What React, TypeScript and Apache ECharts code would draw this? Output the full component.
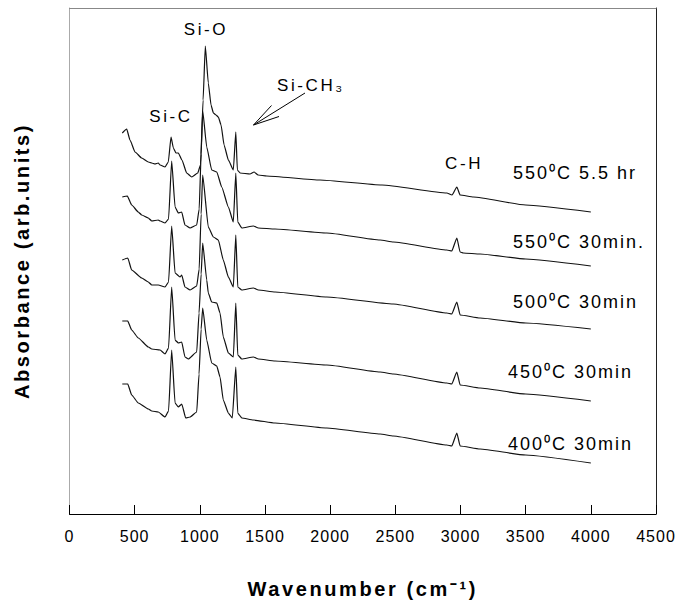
import React, { useEffect, useRef } from "react";
import * as echarts from "echarts";

// Wavenumber (cm^-1) / absorbance (arb. units, spectra stacked with offsets)
const spec550_5h: number[][] = [
  [405, 38.1], [439, 38.5], [464, 37.4], [503, 36.2], [554, 35.6], [605, 35.2], [631, 35.1], [656, 35.0],
  [681, 35.1], [695, 34.9], [733, 34.7], [758, 35.2], [779, 37.7], [797, 36.6], [817, 36.1], [835, 36.1],
  [863, 35.4], [899, 34.1], [938, 33.7], [984, 34.1], [1005, 34.9], [1025, 41.4], [1042, 46.8], [1065, 43.1],
  [1086, 40.9], [1104, 40.1], [1124, 39.9], [1142, 39.7], [1163, 38.9], [1186, 36.9], [1219, 35.4], [1257, 34.4],
  [1276, 38.2], [1288, 34.4], [1309, 34.1], [1385, 34.0], [1416, 34.2], [1447, 33.9], [1513, 33.8], [1922, 33.4],
  [2398, 32.9], [2895, 32.1], [2935, 31.9], [2972, 32.7], [2997, 31.9], [3100, 31.7], [3500, 30.9], [4000, 30.2],
];
const spec550_30: number[][] = [
  [405, 31.7], [444, 31.8], [477, 30.9], [528, 30.2], [554, 29.9], [605, 29.6], [631, 29.3], [681, 29.4],
  [695, 29.3], [733, 29.1], [760, 29.5], [784, 35.3], [810, 30.7], [835, 30.1], [861, 30.2], [886, 28.9],
  [925, 28.6], [976, 28.9], [995, 30.5], [1010, 36.0], [1022, 40.3], [1053, 36.7], [1091, 34.4], [1130, 34.2],
  [1168, 32.7], [1219, 30.7], [1257, 29.2], [1276, 34.1], [1291, 29.2], [1322, 28.6], [1411, 28.8], [1449, 28.6],
  [1577, 28.5], [1974, 28.1], [2383, 27.4], [2485, 27.2], [2895, 26.4], [2933, 26.3], [2972, 27.6], [2997, 26.2],
  [3022, 26.1], [3150, 26.0], [3500, 25.5], [4000, 24.8],
];
const spec500_30: number[][] = [
  [405, 25.4], [447, 25.6], [477, 24.4], [554, 23.6], [605, 23.2], [631, 22.9], [681, 22.9], [733, 22.7],
  [760, 23.2], [784, 28.8], [810, 24.1], [848, 23.7], [861, 23.9], [886, 22.7], [925, 22.4], [976, 22.8],
  [995, 24.5], [1010, 30.0], [1022, 33.9], [1065, 28.7], [1104, 27.7], [1142, 27.4], [1180, 25.4], [1219, 23.7],
  [1257, 22.7], [1276, 27.9], [1291, 22.7], [1322, 22.4], [1411, 22.6], [1449, 22.4], [1577, 22.2], [1974, 21.7],
  [2485, 21.0], [2895, 20.1], [2933, 20.0], [2972, 21.2], [2997, 19.9], [3150, 19.6], [3500, 19.1], [4000, 18.5],
];
const spec450_30: number[][] = [
  [405, 19.3], [447, 19.3], [477, 18.4], [528, 17.6], [605, 16.7], [631, 16.5], [695, 16.4], [733, 16.0],
  [760, 16.6], [784, 22.7], [810, 17.4], [835, 17.1], [861, 17.2], [886, 15.7], [912, 15.5], [976, 16.2],
  [994, 20.1], [1010, 24.0], [1022, 27.1], [1053, 23.4], [1065, 22.1], [1091, 21.2], [1130, 21.1], [1155, 20.1],
  [1180, 17.7], [1219, 16.1], [1257, 15.7], [1276, 21.1], [1291, 15.9], [1322, 15.5], [1411, 15.7], [1449, 15.5],
  [1577, 15.3], [1974, 14.9], [2383, 14.2], [2485, 14.0], [2895, 13.1], [2933, 13.0], [2972, 14.2], [2997, 12.9],
  [3150, 12.6], [3500, 12.0], [4000, 11.3],
];
const spec400_30: number[][] = [
  [405, 13.0], [447, 13.0], [477, 11.9], [528, 11.1], [605, 10.5], [631, 10.3], [681, 10.2], [733, 9.7],
  [760, 10.3], [784, 16.4], [810, 11.1], [835, 10.7], [861, 11.0], [892, 9.6], [925, 9.7], [976, 10.2],
  [994, 14.0], [1010, 18.5], [1022, 20.6], [1053, 17.4], [1091, 15.1], [1130, 14.8], [1155, 13.7], [1180, 11.4],
  [1219, 10.1], [1249, 9.6], [1276, 14.7], [1291, 10.1], [1322, 9.6], [1411, 9.4], [1577, 9.1], [1974, 8.6],
  [2383, 8.0], [2485, 7.8], [2895, 6.9], [2933, 6.8], [2972, 8.1], [2997, 6.8], [3150, 6.5], [3500, 5.9], [4000, 5.1],
];

const seriesNames = ["550⁰C 5.5 hr", "550⁰C 30min.", "500⁰C 30min", "450⁰C 30min", "400⁰C 30min"];
const seriesData = [spec550_5h, spec550_30, spec500_30, spec450_30, spec400_30];
const xTicks = [0, 500, 1000, 1500, 2000, 2500, 3000, 3500, 4000, 4500];

const FONT = '"Liberation Sans", Arial, sans-serif';

const CSS = `
#fig svg text[style*="16px"] { letter-spacing: 1px; }
#fig svg text[style*="17px"] { letter-spacing: 2.6px; }
#fig svg text[style*="18px"] { letter-spacing: 2px; }
#fig svg text[style*="20px"] { letter-spacing: 2.6px; }
`;

export default function App() {
  const ref = useRef<HTMLDivElement>(null);
  useEffect(() => {
    if (!ref.current) return;
    const chart = echarts.init(ref.current, undefined, { renderer: "svg" });

    const labelPos = [
      [513, 173],
      [513, 242],
      [513, 302],
      [508, 372],
      [508, 444],
    ];

    const graphics: any[] = [];
    seriesNames.forEach((name, i) => {
      graphics.push({
        type: "text",
        x: labelPos[i][0],
        y: labelPos[i][1],
        style: {
          text: name,
          fontSize: 18,
          fontFamily: FONT,
          align: "left",
          verticalAlign: "middle",
          fill: "#000",
        },
      });
    });
    const plain = (text: string, x: number, y: number, align = "center") => ({
      type: "text",
      x,
      y,
      style: { text, fontSize: 17, fontFamily: FONT, fill: "#000", align, verticalAlign: "middle" },
    });
    graphics.push(plain("Si-O", 206, 29));
    graphics.push(plain("Si-C", 171, 116));
    graphics.push(plain("C-H", 464, 163));
    graphics.push(plain("Si-CH₃", 277, 85, "left"));
    const ln = (x1: number, y1: number, x2: number, y2: number) => ({
      type: "line",
      shape: { x1, y1, x2, y2 },
      style: { stroke: "#000", lineWidth: 1 },
    });
    graphics.push(ln(305, 93, 253.5, 125));
    graphics.push(ln(253.5, 125, 271.5, 105.5));
    graphics.push(ln(253.5, 125, 279, 116.5));

    chart.setOption({
      animation: false,
      backgroundColor: "#fff",
      grid: { left: 69.5, right: 26, top: 8, bottom: 93 },
      xAxis: [
        {
          type: "value",
          min: xTicks[0],
          max: xTicks[xTicks.length - 1],
          interval: 500,
          name: "Wavenumber (cm⁻¹)",
          nameLocation: "middle",
          nameGap: 65,
          nameTextStyle: { fontSize: 20, fontWeight: "bold", fontFamily: FONT, color: "#000" },
          axisLine: { show: true, onZero: false, lineStyle: { color: "#000", width: 1 } },
          axisTick: { show: true, inside: true, length: 9, lineStyle: { color: "#000" } },
          axisLabel: {
            fontSize: 16,
            fontFamily: FONT,
            color: "#000",
            margin: 14,
            formatter: (v: number) => String(v),
          },
          splitLine: { show: false },
        },
        {
          type: "value",
          position: "top",
          min: xTicks[0],
          max: xTicks[xTicks.length - 1],
          axisLine: { show: true, onZero: false, lineStyle: { color: "#888", width: 1 } },
          axisTick: { show: false },
          axisLabel: { show: false },
          splitLine: { show: false },
        },
      ],
      yAxis: [
        {
          type: "value",
          min: 0,
          max: 50.6,
          name: "Absorbance (arb.units)",
          nameLocation: "middle",
          nameGap: 38,
          nameTextStyle: { fontSize: 20, fontWeight: "bold", fontFamily: FONT, color: "#000" },
          axisLine: { show: true, onZero: false, lineStyle: { color: "#aaa", width: 1 } },
          axisTick: { show: false },
          axisLabel: { show: false },
          splitLine: { show: false },
        },
        {
          type: "value",
          position: "right",
          min: 0,
          max: 50.6,
          axisLine: { show: true, onZero: false, lineStyle: { color: "#222", width: 1 } },
          axisTick: { show: false },
          axisLabel: { show: false },
          splitLine: { show: false },
        },
      ],
      series: seriesData.map((d, i) => ({
        name: seriesNames[i],
        type: "line",
        xAxisIndex: 0,
        yAxisIndex: 0,
        data: d,
        showSymbol: false,
        symbol: "none",
        smooth: 0.15,
        smoothMonotone: "x",
        lineStyle: { color: "#111", width: 1.2 },
      })),
      graphic: graphics,
    });
    return () => chart.dispose();
  }, []);
  return (
    <>
      <style>{CSS}</style>
      <div
        id="fig"
        ref={ref}
        style={{ position: "fixed", left: 0, top: 0, width: 682, height: 607, background: "#fff" }}
      />
    </>
  );
}
